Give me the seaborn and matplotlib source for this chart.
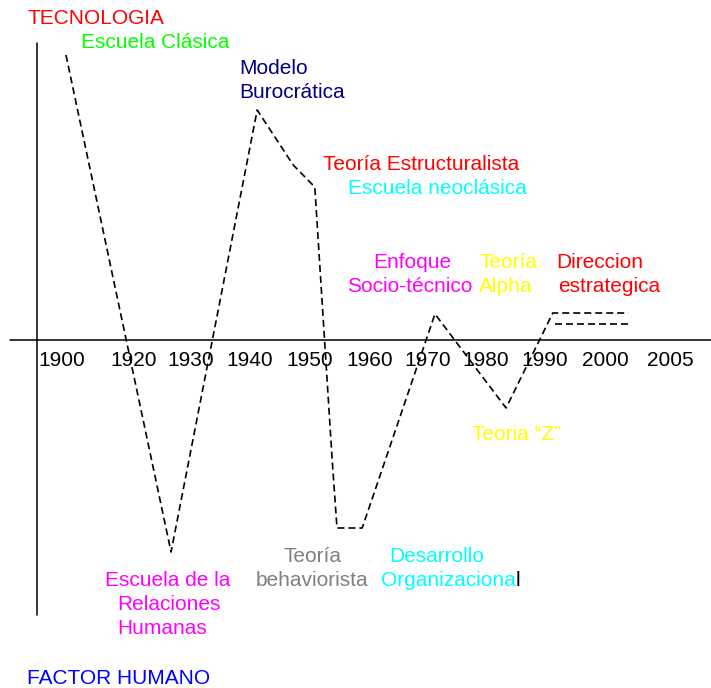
import numpy as np
import pandas as pd
import matplotlib
matplotlib.use("Agg")
import matplotlib.pyplot as plt
import seaborn as sns

# DATA
tick_years = [1900, 1920, 1930, 1940, 1950, 1960, 1970, 1980, 1990, 2000, 2005]
tick_labels = ["1900", "1920", "1930", "1940", "1950", "1960",
               "1970", "1980", "1990", "2000", "2005"]

# main trajectory (year, level: + tecnologia / - factor humano)
path_years = [1901.1, 1926.5, 1941.2, 1947.2, 1950.8, 1953.7, 1954.5,
              1958.7, 1971.2, 1983.4, 1991.3, 2001.8]
path_level = [2.85, -2.12, 2.30, 1.75, 1.53, -1.20, -1.88,
              -1.88, 0.26, -0.68, 0.27, 0.27]

# second (lower) branch at the end
branch_years = [1991.6, 2001.8]
branch_level = [0.16, 0.16]

# LAYOUT (pixel positions of the year labels, figure 711x688)
W, H = 711, 688
TICK_PX = [62, 134, 191, 250, 310, 370, 428, 486, 545, 605, 670]
Y0_PX = 340          # where level 0 sits
PX_PER_UNIT = 100

def year_to_px(years):
    return np.interp(years, tick_years, TICK_PX)

sns.set_style("white")
plt.rcParams["font.family"] = ["Liberation Sans", "DejaVu Sans"]
FS = 15

fig = plt.figure(figsize=(W / 100, H / 100), dpi=100)
ax = fig.add_axes([0, 0, 1, 1])
ax.set_xlim(0, W)
ax.set_ylim(-(H - Y0_PX) / PX_PER_UNIT, Y0_PX / PX_PER_UNIT)
ax.axis("off")

main_df = pd.DataFrame({"x": year_to_px(path_years), "level": path_level})
branch_df = pd.DataFrame({"x": year_to_px(branch_years), "level": branch_level})

dash = (0, (4.2, 2.4))
sns.lineplot(data=main_df, x="x", y="level", ax=ax, color="black",
             lw=1.2, linestyle=dash, sort=False, estimator=None)
sns.lineplot(data=branch_df, x="x", y="level", ax=ax, color="black",
             lw=1.2, linestyle=dash, sort=False, estimator=None)

# axes cross
ax.axhline(0, xmin=10 / W, xmax=1, color="black", lw=1.1)
ax.axvline(37, ymin=(H - 615) / H, ymax=(H - 43) / H, color="black", lw=1.1)

# year labels
for px, lab in zip(TICK_PX, tick_labels):
    ax.text(px, (Y0_PX - 360) / PX_PER_UNIT, lab, ha="center", va="center",
            fontsize=FS, color="black")

def label(px, py, s, color, ha="left"):
    return fig.text(px / W, 1 - py / H, s, ha=ha, va="center",
                    fontsize=FS, color=color)

label(27, 18, "TECNOLOGIA", "#FF0000")
label(81, 43, "Escuela Clásica", "#00FF00")
label(239, 68, "Modelo", "#000080")
label(239, 93, "Burocrática", "#000080")
label(323, 164, "Teoría Estructuralista", "#FF0000")
label(348, 189, "Escuela neoclásica", "#00FFFF")
label(412, 263, "Enfoque", "#FF00FF", ha="center")
label(410, 287, "Socio-técnico", "#FF00FF", ha="center")
label(479, 263, "Teoría", "#FFFF00")
label(479, 287, "Alpha", "#FFFF00")
label(556, 263, "Direccion", "#FF0000")
label(558, 287, "estrategica", "#FF0000")
label(472, 434, "Teoria \u201cZ\u201d", "#FFFF00")
label(312, 556, "Teoría", "#808080", ha="center")
label(312, 580, "behaviorista", "#808080", ha="center")
label(437, 556, "Desarrollo", "#00FFFF", ha="center")
org = label(381, 580, "Organizaciona", "#00FFFF")
ax.annotate("l", xy=(1, 0.5), xycoords=org, va="center", ha="left",
            fontsize=FS, color="black")
label(105, 580, "Escuela de la", "#FF00FF")
label(117, 605, "Relaciones", "#FF00FF")
label(117, 629, "Humanas", "#FF00FF")
label(27, 678, "FACTOR HUMANO", "#0000FF")

plt.savefig("out.png", dpi=100, facecolor="white")
